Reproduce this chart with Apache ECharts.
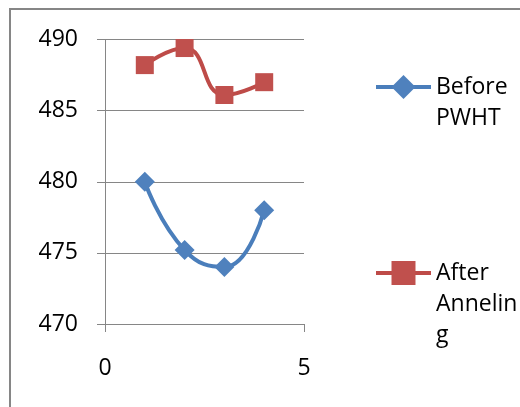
<!DOCTYPE html>
<html>
<head>
<meta charset="utf-8">
<script src="https://cdn.jsdelivr.net/npm/echarts@6/dist/echarts.min.js"></script>
<style>
html,body{margin:0;padding:0;background:#fff;}
#chart{width:520px;height:407px;}
</style>
</head>
<body>
<div id="chart"></div>
<script>
var xValues = [1, 2, 3, 4];
var beforeValues = [480, 475.2, 474, 478];
var afterValues = [488.2, 489.4, 486.1, 487];
var seriesNames = ['Before PWHT', 'After Annelin g'];
var legendLabels = ['\nBefore\nPWHT', '\n\nAfter\nAnnelin\ng'];

function pairs(ys) { return xValues.map(function (x, i) { return [x, ys[i]]; }); }

var gray = '#868686';
var font = 'Open Sans';

var chart = echarts.init(document.getElementById('chart'), null, { renderer: 'canvas' });
chart.setOption({
  animation: false,
  backgroundColor: '#fff',
  textStyle: { fontFamily: font },
  graphic: [{
    type: 'rect',
    shape: { x: 10, y: 9, width: 530, height: 420 },
    style: { fill: 'none', stroke: gray, lineWidth: 2 },
    silent: true
  }],
  grid: { left: 105, right: 216, top: 39.5, bottom: 83, containLabel: false, outerBoundsMode: 'none' },
  xAxis: {
    type: 'value', min: 0, max: 5, interval: 5,
    axisLine: { show: true, lineStyle: { color: gray, width: 1 } },
    axisTick: { show: true, length: 8, lineStyle: { color: gray, width: 1 } },
    splitLine: { show: false },
    axisLabel: { margin: 33, fontSize: 23, color: '#000', fontFamily: font }
  },
  yAxis: {
    type: 'value', min: 470, max: 490, interval: 5,
    axisLine: { show: true, lineStyle: { color: gray, width: 1 } },
    axisTick: { show: true, length: 8, lineStyle: { color: gray, width: 1 } },
    splitLine: { show: true, lineStyle: { color: gray, width: 1 } },
    axisLabel: { margin: 27, fontSize: 23, color: '#000', fontFamily: font }
  },
  legend: [{
    data: [seriesNames[0]],
    orient: 'vertical', left: 374, top: 40.5, padding: 0,
    itemWidth: 55, itemHeight: 30,
    lineStyle: { width: 4 },
    formatter: function () { return legendLabels[0]; },
    textStyle: { fontSize: 23, lineHeight: 31, color: '#000', fontFamily: font }
  }, {
    data: [seriesNames[1]],
    orient: 'vertical', left: 374, top: 195.5, padding: 0,
    itemWidth: 55, itemHeight: 30,
    lineStyle: { width: 4 },
    formatter: function () { return legendLabels[1]; },
    textStyle: { fontSize: 23, lineHeight: 31, color: '#000', fontFamily: font }
  }],
  series: [{
    name: seriesNames[0], type: 'line', data: pairs(beforeValues),
    smooth: 0.5, symbol: 'diamond', symbolSize: 20,
    lineStyle: { color: '#4A7EBB', width: 4 },
    itemStyle: { color: '#4F81BD' }
  }, {
    name: seriesNames[1], type: 'line', data: pairs(afterValues),
    smooth: 0.5, symbol: 'rect', symbolSize: 18,
    lineStyle: { color: '#BE4B48', width: 4 },
    itemStyle: { color: '#C0504D' }
  }]
});
</script>
</body>
</html>
